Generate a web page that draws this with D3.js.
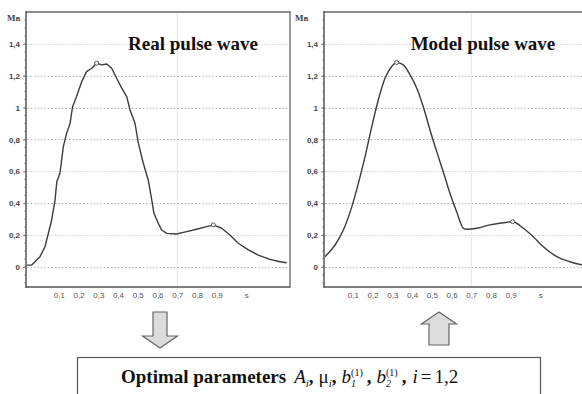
<!DOCTYPE html>
<html><head><meta charset="utf-8">
<script src="https://cdn.jsdelivr.net/npm/d3@7"></script>
<style>body{margin:0;background:#fff}svg{display:block}</style>
</head><body>
<svg id="c" width="582" height="394"></svg>
<script>
// ---------- data ----------
const yTicks = [0, 0.2, 0.4, 0.6, 0.8, 1, 1.2, 1.4];
const yTickLabels = ["0", "0,2", "0,4", "0,6", "0,8", "1", "1,2", "1,4"];
const xTicks = [0.1, 0.2, 0.3, 0.4, 0.5, 0.6, 0.7, 0.8, 0.9, 1.05];
const xTickLabels = ["0,1", "0,2", "0,3", "0,4", "0,5", "0,6", "0,7", "0,8", "0,9", "s"];
const yUnit = "Мв";
const titles = ["Real pulse wave", "Model pulse wave"];

const realT = [-0.062, -0.037, -0.012, 0.005, 0.03, 0.047, 0.064, 0.081, 0.09, 0.106, 0.123, 0.14, 0.157, 0.17, 0.19, 0.216, 0.241, 0.267, 0.292, 0.317, 0.343, 0.368, 0.393, 0.419, 0.444, 0.461, 0.486, 0.503, 0.528, 0.553, 0.571, 0.582, 0.604, 0.621, 0.647, 0.697, 0.748, 0.798, 0.849, 0.883, 0.925, 0.967, 1.009, 1.06, 1.11, 1.17, 1.22, 1.254];
const realV = [0.012, 0.012, 0.044, 0.065, 0.127, 0.21, 0.295, 0.42, 0.535, 0.588, 0.755, 0.84, 0.90, 1.006, 1.07, 1.163, 1.226, 1.247, 1.279, 1.268, 1.274, 1.247, 1.184, 1.122, 1.069, 0.985, 0.902, 0.777, 0.651, 0.546, 0.42, 0.337, 0.274, 0.232, 0.211, 0.207, 0.222, 0.237, 0.253, 0.264, 0.243, 0.201, 0.149, 0.107, 0.075, 0.048, 0.033, 0.027];
const realPeakT = [0.292, 0.883];
const realPeakV = [1.279, 0.264];

const modelT = [-0.041, 0.010, 0.052, 0.095, 0.128, 0.162, 0.196, 0.229, 0.263, 0.297, 0.322, 0.356, 0.39, 0.424, 0.457, 0.491, 0.525, 0.558, 0.592, 0.626, 0.66, 0.677, 0.728, 0.795, 0.862, 0.91, 0.964, 1.014, 1.065, 1.133, 1.2, 1.261];
const modelV = [0.065, 0.138, 0.232, 0.379, 0.525, 0.693, 0.881, 1.048, 1.184, 1.258, 1.283, 1.268, 1.205, 1.122, 1.006, 0.86, 0.724, 0.598, 0.463, 0.347, 0.243, 0.237, 0.243, 0.264, 0.278, 0.284, 0.243, 0.19, 0.127, 0.065, 0.033, 0.013];
const modelPeakT = [0.322, 0.91];
const modelPeakV = [1.283, 0.284];

// ---------- drawing ----------
const svg = d3.select("#c");
const fontSmall = "'Liberation Sans', Arial, sans-serif";
const fontSerif = "'Liberation Serif', 'Times New Roman', serif";

const y = d3.scaleLinear().domain([-0.1255, 1.60]).range([287, 12]);

const panels = [
  {x0: 26, x1: 290, dom: [-0.066, 1.271], rng: [26, 290], T: realT, V: realV, pT: realPeakT, pV: realPeakV, rightBorder: true, unitX: 7, curve: d3.curveLinear, titleX: 193},
  {x0: 324, x1: 600, dom: [-0.046, 1.261], rng: [324, 582], T: modelT, V: modelV, pT: modelPeakT, pV: modelPeakV, rightBorder: false, unitX: 295, curve: d3.curveMonotoneX, titleX: 483}
];

panels.forEach((p, pi) => {
  const x = d3.scaleLinear().domain(p.dom).range(p.rng);
  const g = svg.append("g");

  // vertical faint grid line
  g.append("line").attr("x1", x(0.7)).attr("x2", x(0.7)).attr("y1", 13).attr("y2", 286)
    .attr("stroke", "#e2e2e2").attr("stroke-width", 1);

  // horizontal dotted grid
  g.selectAll("line.grid").data(yTicks).join("line").attr("class", "grid")
    .attr("x1", p.x0 + 1).attr("x2", p.x1).attr("y1", d => Math.round(y(d)) + 0.5).attr("y2", d => Math.round(y(d)) + 0.5)
    .attr("stroke", (d, i) => (i % 2 === 1 && d !== 1) ? "#cfcfcf" : "#b4b4b4")
    .attr("stroke-width", 1).attr("stroke-dasharray", "1.5,2");

  // minor ticks on y axis
  const minor = d3.range(-0.1, 1.56, 0.05);
  g.selectAll("line.minor").data(minor).join("line").attr("class", "minor")
    .attr("x1", p.x0 - 2).attr("x2", p.x0).attr("y1", d => y(d)).attr("y2", d => y(d))
    .attr("stroke", "#999").attr("stroke-width", 0.8);

  // y axis
  const ya = d3.axisLeft(y).tickValues(yTicks).tickFormat((d, i) => yTickLabels[i]).tickSize(3).tickPadding(3);
  const yg = g.append("g").attr("transform", `translate(${p.x0},0)`).call(ya);
  yg.select(".domain").remove();
  yg.selectAll("line").attr("stroke", "#888");
  yg.selectAll("text").attr("font-family", fontSmall).attr("font-size", 8).attr("font-weight", "bold").attr("fill", "#444");

  // x axis labels
  const xa = d3.axisBottom(x).tickValues(xTicks).tickFormat((d, i) => xTickLabels[i]).tickSize(0).tickPadding(5);
  const xg = g.append("g").attr("transform", `translate(0,287)`).call(xa);
  xg.select(".domain").remove();
  xg.selectAll("text").attr("font-family", fontSmall).attr("font-size", 8).attr("fill", "#555");

  // unit label
  g.append("text").attr("x", p.unitX).attr("y", 21).text(yUnit)
    .attr("font-family", fontSerif).attr("font-size", 9).attr("font-weight", "bold").attr("fill", "#444");

  // frame
  g.append("line").attr("x1", p.x0).attr("x2", p.x1).attr("y1", 12).attr("y2", 12).attr("stroke", "#8a8a8a").attr("stroke-width", 2);
  g.append("line").attr("x1", p.x0).attr("x2", p.x1).attr("y1", 287).attr("y2", 287).attr("stroke", "#555").attr("stroke-width", 1.5);
  g.append("line").attr("x1", p.x0).attr("x2", p.x0).attr("y1", 11).attr("y2", 288).attr("stroke", "#555").attr("stroke-width", 1.5);
  if (p.rightBorder) g.append("line").attr("x1", p.x1).attr("x2", p.x1).attr("y1", 11).attr("y2", 288).attr("stroke", "#777").attr("stroke-width", 1.5);

  // curve
  const line = d3.line().x(d => x(d[0])).y(d => y(d[1])).curve(p.curve);
  g.append("path").datum(p.T.map((t, i) => [t, p.V[i]])).attr("d", line)
    .attr("fill", "none").attr("stroke", "#3c3c3c").attr("stroke-width", 1.4).attr("stroke-linejoin", "round");

  // peak markers
  g.selectAll("circle.pk").data(p.pT.map((t, i) => [t, p.pV[i]])).join("circle").attr("class", "pk")
    .attr("cx", d => x(d[0])).attr("cy", d => y(d[1])).attr("r", 2)
    .attr("fill", "#fff").attr("stroke", "#555").attr("stroke-width", 1);

  // title
  g.append("text").attr("x", p.titleX).attr("y", 50).attr("text-anchor", "middle").text(titles[pi])
    .attr("font-family", fontSerif).attr("font-size", 19).attr("font-weight", "bold").attr("fill", "#111");
});

// ---------- arrows ----------
function arrow(cx, yTop, yBot, down) {
  const sw = 7, hw = 17.5, hl = 12;
  let pts;
  if (down) {
    const yb = yBot - hl;
    pts = [[cx - sw, yTop], [cx + sw, yTop], [cx + sw, yb], [cx + hw, yb], [cx, yBot], [cx - hw, yb], [cx - sw, yb]];
  } else {
    const yb = yTop + hl;
    pts = [[cx, yTop], [cx + hw, yb], [cx + sw + 3, yb], [cx + sw + 3, yBot], [cx - sw - 3, yBot], [cx - sw - 3, yb], [cx - hw, yb]];
  }
  svg.append("path").attr("d", d3.line()(pts) + "Z").attr("fill", "#dcdcdc").attr("stroke", "#666").attr("stroke-width", 1.2);
}
arrow(160, 312, 348, true);
arrow(439, 312, 345, false);

// ---------- bottom box ----------
svg.append("rect").attr("x", 77.5).attr("y", 357.5).attr("width", 463).attr("height", 60)
  .attr("fill", "#fff").attr("stroke", "#555").attr("stroke-width", 1.2);

const pieces = [
  {t: "Optimal parameters", w: "bold", s: 19, gap: 8},
  {t: "A", st: "italic", s: 19},
  {t: "i", st: "italic", s: 11, dy: 4},
  {t: ",", s: 19, w: "bold", gap: 5},
  {t: "μ", s: 19},
  {t: "i", st: "italic", s: 11, dy: 4},
  {t: ",", s: 19, w: "bold", gap: 5},
  {t: "b", st: "italic", s: 19},
  {sup: "(1)", sub: "1"},
  {t: ",", s: 19, w: "bold", gap: 5, pre: 4},
  {t: "b", st: "italic", s: 19},
  {sup: "(1)", sub: "2"},
  {t: ",", s: 19, w: "bold", gap: 6, pre: 4},
  {t: "i", st: "italic", s: 19, gap: 3},
  {t: "=", s: 19, gap: 3},
  {t: "1,2", s: 19}
];
let cx = 121;
const base = 383;
pieces.forEach(pc => {
  if (pc.pre) cx += pc.pre;
  if (pc.sup) {
    const a = svg.append("text").attr("x", cx).attr("y", base - 7).text(pc.sup)
      .attr("font-family", fontSerif).attr("font-size", 10).attr("fill", "#111");
    svg.append("text").attr("x", cx).attr("y", base + 4).text(pc.sub)
      .attr("font-family", fontSerif).attr("font-size", 10).attr("font-style", "italic").attr("fill", "#111");
    cx += a.node().getComputedTextLength();
    return;
  }
  const t = svg.append("text").attr("x", cx).attr("y", base + (pc.dy || 0)).text(pc.t)
    .attr("font-family", fontSerif).attr("font-size", pc.s)
    .attr("font-weight", pc.w || "normal").attr("font-style", pc.st || "normal").attr("fill", "#111");
  cx += t.node().getComputedTextLength() + (pc.gap || 0);
});
</script>
</body></html>
